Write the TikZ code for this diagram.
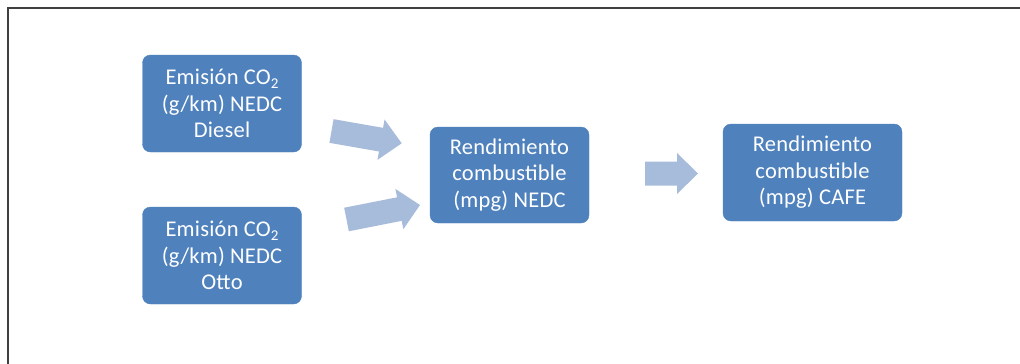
\documentclass[tikz,border=0pt]{standalone}
\usepackage{fontspec}
\setmainfont{Carlito}[LetterSpace=1]
\usetikzlibrary{calc}
\definecolor{boxblue}{RGB}{79,129,189}
\definecolor{arrowblue}{RGB}{167,187,219}
\definecolor{framegray}{RGB}{64,64,64}
\newcommand\subtwo{\raisebox{-4pt}{\fontsize{15}{15}\selectfont 2}}
\tikzset{
  box/.style={draw=boxblue, fill=boxblue, rounded corners=8pt, text=white,
    align=center, font=\fontsize{22.5}{26.5}\selectfont, inner sep=0pt},
  blockarrow/.style={fill=arrowblue, draw=none}
}
\newcommand\blockarrow[2]{%
  \path[blockarrow] let \p1=(#1), \p2=(#2),
    \n1={atan2(\y2-\y1,\x2-\x1)}, \n2={veclen(\x2-\x1,\y2-\y1)} in
    [shift={(\p1)}, rotate=\n1]
    (0,-12) -- ({\n2-21},-12) -- ({\n2-21},-20.5) -- (\n2,0)
    -- ({\n2-21},20.5) -- ({\n2-21},12) -- (0,12) -- cycle;}
\begin{document}
\begin{tikzpicture}[x=1pt,y=-1pt]
  \useasboundingbox (0,0) rectangle (1020,364);
  \draw[framegray, line width=2pt] (7.5,364) -- (7.5,7.5) -- (1020,7.5);

  \node[box, minimum width=159pt, minimum height=97pt] (diesel) at (222,103.5)
    {Emisión CO\subtwo\\(g/km) NEDC\\Diesel};
  \node[box, minimum width=159pt, minimum height=97pt] (otto) at (222,255.5)
    {Emisión CO\subtwo\\(g/km) NEDC\\Otto};
  \node[box, minimum width=159pt, minimum height=96pt] (nedc) at (509.5,175)
    {Rendimiento\\combustible\\(mpg) NEDC};
  \node[box, minimum width=179pt, minimum height=97pt] (cafe) at (812.5,172.5)
    {Rendimiento\\combustible\\(mpg) CAFE};

  \coordinate (a1s) at (331.5,131);   \coordinate (a1e) at (401.7,143.3);
  \coordinate (a2s) at (346.5,219.5); \coordinate (a2e) at (420,205);
  \coordinate (a3s) at (645,173.5);   \coordinate (a3e) at (698,173.5);

  \blockarrow{a1s}{a1e}
  \blockarrow{a2s}{a2e}
  \blockarrow{a3s}{a3e}
\end{tikzpicture}
\end{document}
